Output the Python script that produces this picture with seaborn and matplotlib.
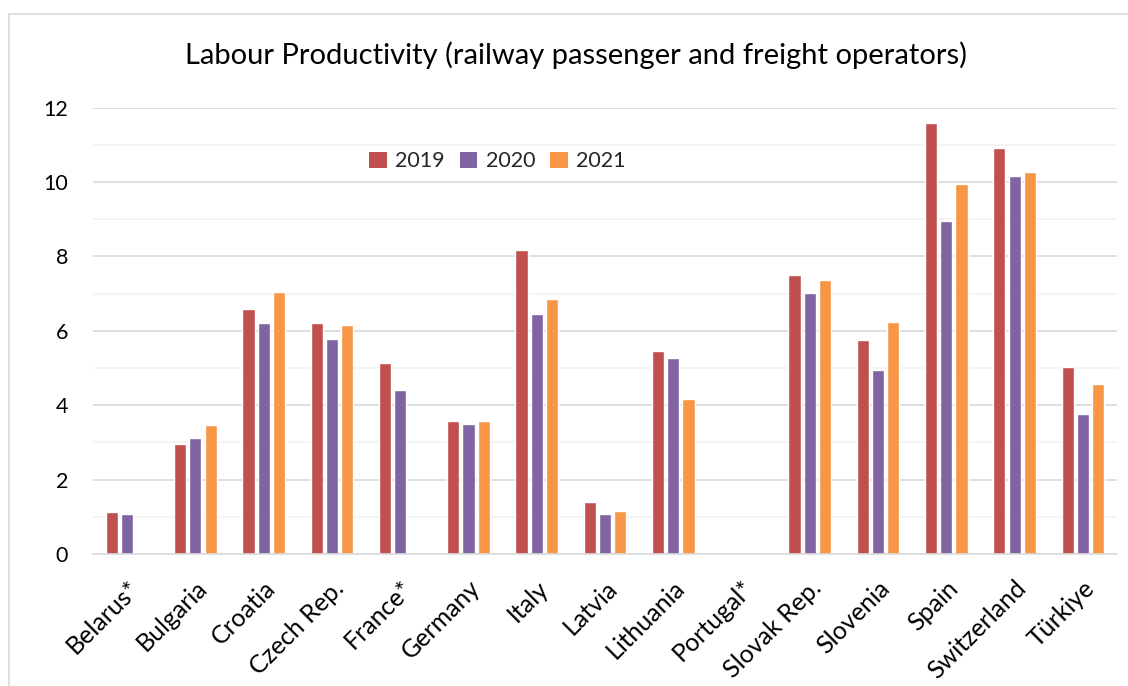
import matplotlib
matplotlib.use("Agg")
import matplotlib.pyplot as plt
from matplotlib.patches import Rectangle, Patch
from matplotlib.ticker import MultipleLocator
import numpy as np
import pandas as pd
import seaborn as sns

countries = ["Belarus*", "Bulgaria", "Croatia", "Czech Rep.", "France*", "Germany",
             "Italy", "Latvia", "Lithuania", "Portugal*", "Slovak Rep.", "Slovenia",
             "Spain", "Switzerland", "Türkiye"]
years = ["2019", "2020", "2021"]
v2019 = [1.14, 2.97, 6.60, 6.22, 5.14, 3.58, 8.17, 1.40, 5.45, np.nan, 7.49, 5.76, 11.59, 10.92, 5.02]
v2020 = [1.08, 3.11, 6.21, 5.77, 4.40, 3.49, 6.46, 1.08, 5.27, np.nan, 7.02, 4.95, 8.95, 10.16, 3.77]
v2021 = [np.nan, 3.47, 7.05, 6.16, np.nan, 3.58, 6.85, 1.15, 4.17, np.nan, 7.36, 6.23, 9.94, 10.28, 4.56]
colors = ["#C0504D", "#8064A2", "#F79646"]
title = "Labour Productivity (railway passenger and freight operators)"

df = pd.DataFrame({
    "country": countries * 3,
    "year": [y for y in years for _ in countries],
    "value": v2019 + v2020 + v2021,
})

sns.set_theme(style="white")
plt.rcParams["font.family"] = ["Lato", "DejaVu Sans"]

fig = plt.figure(figsize=(11.28, 6.86), dpi=100)
ax = fig.add_axes([93 / 1128, 1 - 554 / 686, 1024 / 1128, (554 - 107.7) / 686])

sns.barplot(data=df, x="country", y="value", hue="year", hue_order=years,
            palette=colors, order=countries, width=0.67, gap=0.2,
            saturation=1, ax=ax, legend=False, errorbar=None)

ax.set_ylim(0, 12)
ax.set_xlim(-0.5, len(countries) - 0.5)
ax.yaxis.set_major_locator(MultipleLocator(2))
ax.yaxis.set_minor_locator(MultipleLocator(1))
ax.grid(axis="y", which="major", color="#D9D9D9", linewidth=1.2, zorder=0)
ax.grid(axis="y", which="minor", color="#F2F2F2", linewidth=1.2, zorder=0)
ax.set_axisbelow(True)
for side in ["top", "right", "left"]:
    ax.spines[side].set_visible(False)
ax.spines["bottom"].set_color("#D9D9D9")
ax.spines["bottom"].set_linewidth(1.2)

ax.set_xlabel("")
ax.set_ylabel("")
ax.tick_params(axis="y", which="both", length=0, pad=18, labelsize=15.5, labelcolor="black")
ax.tick_params(axis="x", length=0, pad=16, labelsize=18, labelcolor="black")
plt.setp(ax.get_xticklabels(), rotation=45, ha="right", rotation_mode="anchor")

handles = [Patch(facecolor=c, edgecolor="none") for c in colors]
ax.legend(handles, years, ncol=3, frameon=False, fontsize=15.5,
          loc="center", bbox_to_anchor=(0.395, 0.88),
          handlelength=0.8, handleheight=0.8, handletextpad=0.4, columnspacing=0.7)

fig.text(576 / 1128, 1 - 55 / 686, title, ha="center", va="center", fontsize=21, color="black")

fig.patches.append(Rectangle((9 / 1128, -0.1), 1.2, (686 - 14) / 686 + 0.1,
                             transform=fig.transFigure, fill=False,
                             edgecolor="#D9D9D9", linewidth=1.2))

fig.savefig("out.png", dpi=100)
